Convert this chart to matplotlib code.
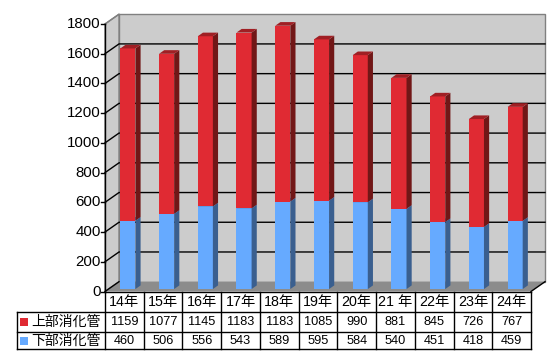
import matplotlib
matplotlib.use("Agg")
import matplotlib.pyplot as plt
from matplotlib.patches import Polygon
from matplotlib.transforms import blended_transform_factory

plt.rcParams['font.family'] = ['Liberation Sans', 'Noto Sans CJK JP', 'DejaVu Sans']

categories = ["14年", "15年", "16年", "17年", "18年", "19年", "20年", "21 年", "22年", "23年", "24年"]
upper = [1159, 1077, 1145, 1183, 1183, 1085, 990, 881, 845, 726, 767]
lower = [460, 506, 556, 543, 589, 595, 584, 540, 451, 418, 459]
series_names = ["上部消化管", "下部消化管"]
yticks = list(range(0, 2000, 200))

W, H = 559, 362
fig = plt.figure(figsize=(W / 100, H / 100), dpi=100)
fig.patch.set_facecolor('white')

# front plane placement (pixels)
left_px, right_px, bot_px, top_px = 105, 531, 291.5, 24
ax = fig.add_axes([left_px / W, (H - bot_px) / H, (right_px - left_px) / W, (bot_px - top_px) / H])
n = len(categories)
ymax = 1800
ax.set_xlim(0, n)
ax.set_ylim(0, ymax)
ax.axis('off')

# depth offsets (pixel) converted to data units
depth_dx_px, depth_dy_px = 14, 9.8
DX = depth_dx_px * n / (right_px - left_px)
DY = depth_dy_px * ymax / (bot_px - top_px)


def P(x, v, d):
    return (x + d * DX, v + d * DY)


def poly(pts, fc, ec='none', lw=0.0, z=1):
    ax.add_patch(Polygon(pts, closed=True, facecolor=fc, edgecolor=ec, linewidth=lw,
                         clip_on=False, zorder=z))


wall = '#cccccc'
# back wall
poly([P(0, 0, 1), P(n, 0, 1), P(n, ymax, 1), P(0, ymax, 1)], wall, '#808080', 1.0, 1)
# left wall
poly([P(0, 0, 0), P(0, 0, 1), P(0, ymax, 1), P(0, ymax, 0)], wall, '#808080', 1.0, 1)
# floor
poly([P(0, 0, 0), P(n, 0, 0), P(n, 0, 1), P(0, 0, 1)], '#8c8c8c', 'none', 0, 1)

# gridlines
for v in yticks[1:]:
    xs = [P(0, v, 0)[0], P(0, v, 1)[0], P(n, v, 1)[0]]
    ys = [P(0, v, 0)[1], P(0, v, 1)[1], P(n, v, 1)[1]]
    if v == ymax:
        ax.plot(xs[:2], ys[:2], color='#808080', lw=1.0, clip_on=False, zorder=2)
    else:
        ax.plot(xs, ys, color='black', lw=1.0, clip_on=False, zorder=2)
# floor left / right edges
for xe in (0, n):
    a, b = P(xe, 0, 0), P(xe, 0, 1)
    ax.plot([a[0], b[0]], [a[1], b[1]], color='black', lw=1.0, clip_on=False, zorder=2)

# y axis
ax.plot([0, 0], [0, ymax], color='black', lw=1.0, clip_on=False, zorder=6)
tick_len = 4 * n / (right_px - left_px)
for v in yticks:
    ax.plot([-tick_len, 0], [v, v], color='black', lw=1.0, clip_on=False, zorder=6)
    ax.text(-tick_len - 0.01, v, str(v), ha='right', va='center', fontsize=10.8, zorder=6)

# bars
d1, d2 = 0.25, 0.62
hw = 0.195
colors = {
    'lower': ('#66aaff', '#3a5f8f', '#4f86c8'),
    'upper': ('#e02a33', '#711717', '#a01f24'),
}


def bar(c, v0, v1, cols):
    front, side, top = cols
    poly([P(c - hw, v0, d1), P(c + hw, v0, d1), P(c + hw, v1, d1), P(c - hw, v1, d1)], front, z=4)
    poly([P(c + hw, v0, d1), P(c + hw, v0, d2), P(c + hw, v1, d2), P(c + hw, v1, d1)], side, z=4)
    poly([P(c - hw, v1, d1), P(c + hw, v1, d1), P(c + hw, v1, d2), P(c - hw, v1, d2)], top, z=4)


for i in range(n):
    c = i + 0.5
    bar(c, 0, lower[i], colors['lower'])
    bar(c, lower[i], lower[i] + upper[i], colors['upper'])

# data table
tr = blended_transform_factory(ax.transData, fig.transFigure)
rows_px = [bot_px, 312, 332, 349]
rows = [(H - r) / H for r in rows_px]
label_left = (17 - left_px) / (right_px - left_px) * n


def line(x0, x1, y0, y1):
    ax.plot([x0, x1], [y0, y1], color='black', lw=1.0, transform=tr, clip_on=False, zorder=7)


line(0, n, rows[0], rows[0])
for r in rows[1:]:
    line(label_left, n, r, r)
for k in range(n + 1):
    line(k, k, rows[0], rows[3])
line(label_left, label_left, rows[1], rows[3])

for i in range(n):
    ax.text(i + 0.5, (rows[0] + rows[1]) / 2, categories[i], ha='center', va='center',
            fontsize=10.3, transform=tr, zorder=8)
    ax.text(i + 0.5, (rows[1] + rows[2]) / 2, str(upper[i]), ha='center', va='center',
            fontsize=9.2, transform=tr, zorder=8)
    ax.text(i + 0.5, (rows[2] + rows[3]) / 2, str(lower[i]), ha='center', va='center',
            fontsize=9.2, transform=tr, zorder=8)

key_x = (24 - left_px) / (right_px - left_px) * n
text_x = (31 - left_px) / (right_px - left_px) * n
for j, (name, col) in enumerate(zip(series_names, [colors['upper'][0], colors['lower'][0]])):
    yc = (rows[j + 1] + rows[j + 2]) / 2
    ax.plot([key_x], [yc], marker='s', markersize=5.5, color=col, transform=tr,
            clip_on=False, zorder=8, markeredgewidth=0)
    ax.text(text_x, yc, name, ha='left', va='center', fontsize=10, transform=tr, zorder=8)

fig.savefig('out.png', dpi=100)
